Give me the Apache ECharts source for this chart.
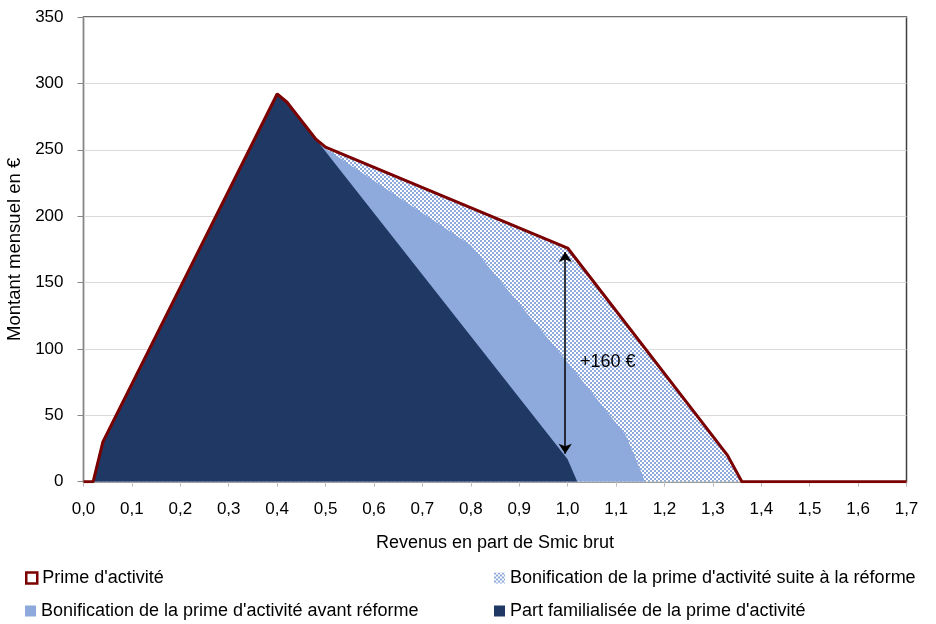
<!DOCTYPE html>
<html>
<head>
<meta charset="utf-8">
<script src="https://cdn.jsdelivr.net/npm/echarts@6/dist/echarts.min.js"></script>
<style>
html,body{margin:0;padding:0;background:#fff;}
#chart{width:936px;height:624px;}
</style>
</head>
<body>
<div id="chart"></div>
<script>
// Prime d'activité (total, top of the checkered area)
const totalX = [0, 0.02, 0.04, 0.40, 0.42, 0.48, 0.50, 1.00, 1.33, 1.36, 1.70];
const totalY = [0, 0, 30, 292, 286, 258, 252, 176, 20, 0, 0];
// Top of "Bonification avant réforme" area (cumulative)
const beforeX = [0, 0.02, 0.04, 0.40, 0.42, 0.48, 0.50, 0.80, 1.00, 1.12, 1.14, 1.16, 1.70];
const beforeY = [0, 0, 30, 292, 286, 258, 251, 178, 90, 35, 18, 0, 0];
// Part familialisée
const famX = [0, 0.02, 0.04, 0.40, 0.42, 0.48, 1.00, 1.02, 1.70];
const famY = [0, 0, 30, 292, 286, 258, 17, 0, 0];
// Annotation
const arrowX = 0.995;
const arrowFrom = 173;
const arrowTo = 21;
const annotText = '+160 €';
const annotPos = [1.083, 90];

const xTicks = [0, 1.7, 0.1];
const yTicks = [0, 350, 50];

const names = {
  total: "Prime d'activité",
  reform: "Bonification de la prime d'activité suite à la réforme",
  before: "Bonification de la prime d'activité avant réforme",
  fam: "Part familialisée de la prime d'activité"
};

function pairs(xs, ys) { return xs.map((x, i) => [x, ys[i]]); }

// checkered pattern
const pc = document.createElement('canvas');
pc.width = 4; pc.height = 4;
const pctx = pc.getContext('2d');
pctx.fillStyle = '#ffffff'; pctx.fillRect(0, 0, 4, 4);
pctx.fillStyle = '#8EA9DB';
pctx.fillRect(0, 0, 2, 2); pctx.fillRect(2, 2, 2, 2);

const FONT = 'Liberation Sans';
const legendText = {fontSize: 18, color: '#000', fontFamily: FONT};
function oneLegend(item, left, top) {
  return {orient: 'horizontal', left: left, top: top, itemWidth: 11, itemHeight: 11, itemGap: 8,
    textStyle: legendText, data: [item]};
}

const chart = echarts.init(document.getElementById('chart'), null, {renderer: 'canvas'});
chart.setOption({
  animation: false,
  textStyle: {fontFamily: FONT},
  grid: {left: 83.5, right: 29.5, top: 17, bottom: 142.3, containLabel: false,
    outerBoundsMode: 'none',
    show: true, borderColor: '#404040', borderWidth: 1.5, backgroundColor: 'transparent'},
  xAxis: {
    type: 'value', min: xTicks[0], max: xTicks[1], interval: xTicks[2],
    name: 'Revenus en part de Smic brut', nameLocation: 'middle', nameGap: 52,
    nameTextStyle: {fontSize: 18, color: '#000', fontFamily: FONT},
    axisLine: {show: true, lineStyle: {color: '#BFBFBF'}},
    axisTick: {show: true, length: 5, lineStyle: {color: '#BFBFBF'}},
    axisLabel: {fontSize: 17, color: '#000', margin: 19,
      formatter: v => v.toFixed(1).replace('.', ',')},
    splitLine: {show: false}
  },
  yAxis: {
    type: 'value', min: yTicks[0], max: yTicks[1], interval: yTicks[2],
    name: 'Montant mensuel en €', nameLocation: 'middle', nameGap: 56,
    nameTextStyle: {fontSize: 18.5, color: '#000', fontFamily: FONT},
    axisLine: {show: true, lineStyle: {color: '#868686'}},
    axisTick: {show: true, length: 6, lineStyle: {color: '#868686'}},
    axisLabel: {fontSize: 17, color: '#000', margin: 20},
    splitLine: {show: true, lineStyle: {color: '#D9D9D9', width: 1}}
  },
  legend: [
    oneLegend({name: names.total, icon: 'rect', itemStyle: {color: '#ffffff', borderColor: '#7B0000', borderWidth: 2.5}}, 20, 564),
    oneLegend({name: names.before, icon: 'rect'}, 20, 597),
    oneLegend({name: names.reform, icon: 'rect'}, 489, 564),
    oneLegend({name: names.fam, icon: 'rect'}, 489, 597)
  ],
  series: [
    {
      name: names.reform, type: 'line', data: pairs(totalX, totalY),
      symbol: 'none', lineStyle: {width: 0},
      itemStyle: {color: {image: pc, repeat: 'repeat'}},
      areaStyle: {color: {image: pc, repeat: 'repeat'}, opacity: 1},
      z: 1
    },
    {
      name: names.before, type: 'line', data: pairs(beforeX, beforeY),
      symbol: 'none', lineStyle: {width: 0},
      itemStyle: {color: '#8EA9DB'},
      areaStyle: {color: '#8EA9DB', opacity: 1},
      z: 2
    },
    {
      name: names.fam, type: 'line', data: pairs(famX, famY),
      symbol: 'none', lineStyle: {width: 0},
      itemStyle: {color: '#203864'},
      areaStyle: {color: '#203864', opacity: 1},
      z: 3
    },
    {
      name: names.total, type: 'line', data: pairs(totalX, totalY),
      symbol: 'none', lineStyle: {width: 3, color: '#7B0000'},
      itemStyle: {color: '#7B0000'},
      z: 4,
      markLine: {
        silent: true, symbol: ['arrow', 'arrow'], symbolSize: [10, 10],
        lineStyle: {color: '#000', width: 1.5, type: 'solid'},
        label: {show: false},
        data: [[{coord: [arrowX, arrowFrom]}, {coord: [arrowX, arrowTo]}]]
      },
      markPoint: {
        silent: true, symbol: 'rect', symbolSize: 1,
        itemStyle: {color: 'rgba(0,0,0,0)'},
        label: {show: true, position: 'inside', formatter: annotText, fontSize: 18, color: '#000', fontFamily: FONT},
        data: [{coord: annotPos}]
      }
    }
  ]
});
</script>
</body>
</html>
